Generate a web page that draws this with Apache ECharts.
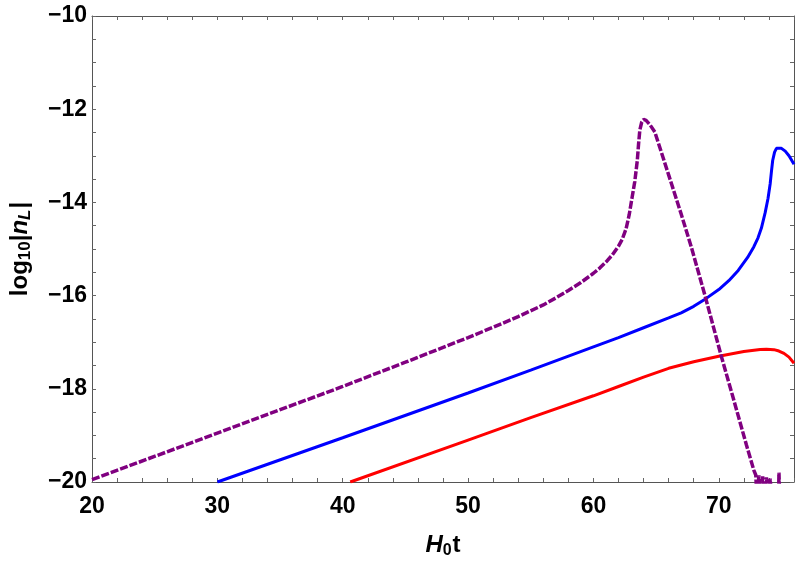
<!DOCTYPE html>
<html>
    <head>
        <meta charset="utf-8">
        <title>log10|nL|</title>
        <script src="https://cdn.jsdelivr.net/npm/echarts@6/dist/echarts.min.js"></script>
    </head>
    <body style="margin:0">
        <div id="chart" style="width: 797px;height: 564px;"></div>
        <script>
            var myChart = echarts.init(document.getElementById("chart"));

            // values
            var purple_x = [20, 30, 40, 45, 50, 52, 54, 56, 57, 58, 59, 60, 60.5, 61, 61.5, 62, 62.3, 62.6, 62.85, 63.08, 63.3, 63.5, 63.6, 63.7, 63.85, 64.0, 64.2, 64.5, 64.9, 66, 67, 67.8, 68.9, 70.2, 71.1, 72.2, 72.8, 72.95, 73.05, 73.2, 73.35, 73.5, 73.65, 73.8, 73.95, 74.1, 74.3, 74.75, 74.8, 74.9];
            var purple_y = [-19.95, -18.95, -17.95, -17.43, -16.9, -16.68, -16.45, -16.2, -16.05, -15.89, -15.72, -15.52, -15.41, -15.28, -15.13, -14.94, -14.79, -14.57, -14.27, -13.9, -13.55, -13.1, -12.75, -12.45, -12.28, -12.22, -12.24, -12.33, -12.49, -13.41, -14.25, -14.95, -16.0, -17.3, -18.15, -19.2, -19.75, -19.85, -20.4, -19.86, -20.5, -19.88, -20.5, -19.9, -20.5, -19.93, -20.6, -20.6, -19.8, -20.6];

            var blue_x = [30, 40, 50, 55, 60, 62, 64, 66, 67, 68, 69, 70, 70.8, 71.55, 72.3, 72.8, 73.13, 73.4, 73.7, 73.93, 74.1, 74.2, 74.3, 74.45, 74.6, 74.75, 75.0, 75.3, 75.6, 76];
            var blue_y = [-20, -19.05, -18.09, -17.6, -17.1, -16.9, -16.69, -16.48, -16.37, -16.23, -16.06, -15.87, -15.68, -15.46, -15.18, -14.95, -14.76, -14.55, -14.22, -13.91, -13.6, -13.34, -13.1, -12.92, -12.84, -12.81, -12.84, -12.9, -13.0, -13.18];

            var red_x = [40.6, 50, 55, 60, 62, 64, 66, 68, 70, 72, 73.3, 73.8, 74.4, 74.8, 75.2, 75.6, 76];
            var red_y = [-20.0, -19.1, -18.62, -18.15, -17.95, -17.75, -17.56, -17.42, -17.3, -17.2, -17.155, -17.15, -17.16, -17.19, -17.24, -17.32, -17.45];

            var x_labels = [20, 30, 40, 50, 60, 70];
            var y_labels = [-10, -12, -14, -16, -18, -20];

            function pairs(xs, ys) {
                var out = [];
                for (var i = 0; i < xs.length; i++) {
                    out.push([xs[i], ys[i]]);
                }
                return out;
            }

            var font = 'Liberation Sans, Arial, sans-serif';
            var frame = {lineStyle: {color: '#555', width: 1}};
            var ticks = {show: true, inside: true, length: 4, lineStyle: {color: '#666'}};

            function xLabel(v) {
                return x_labels.indexOf(v) >= 0 ? String(v) : '';
            }
            function yLabel(v) {
                return y_labels.indexOf(v) >= 0 ? '\u2212' + Math.abs(v) : '';
            }

            option = {
                animation: false,
                grid: {left: 90, right: 1, top: 16, bottom: 77},
                xAxis: [{
                    type: 'value',
                    min: 20,
                    max: 76,
                    interval: 2,
                    axisLine: frame,
                    axisTick: ticks,
                    splitLine: {show: false},
                    axisLabel: {
                        formatter: xLabel,
                        color: '#000',
                        fontFamily: font,
                        fontWeight: 'bold',
                        fontSize: 23,
                        margin: 13
                    },
                    name: '{i|H}{s|0}{n|t}',
                    nameLocation: 'middle',
                    nameGap: 50,
                    nameTextStyle: {
                        rich: {
                            i: {fontFamily: font, fontWeight: 'bold', fontStyle: 'italic', fontSize: 24, color: '#000'},
                            s: {fontFamily: font, fontWeight: 'bold', fontSize: 16, color: '#000', padding: [11, 1, 0, 0]},
                            n: {fontFamily: font, fontWeight: 'bold', fontSize: 24, color: '#000'}
                        }
                    }
                }, {
                    type: 'value',
                    position: 'top',
                    min: 20,
                    max: 76,
                    interval: 2,
                    axisLine: frame,
                    axisTick: ticks,
                    splitLine: {show: false},
                    axisLabel: {show: false}
                }],
                yAxis: [{
                    type: 'value',
                    min: -20,
                    max: -10,
                    interval: 0.5,
                    axisLine: frame,
                    axisTick: ticks,
                    splitLine: {show: false},
                    axisLabel: {
                        formatter: yLabel,
                        color: '#000',
                        fontFamily: font,
                        fontWeight: 'bold',
                        fontSize: 23,
                        margin: 5
                    },
                    name: '{n|log}{s|10}{n||}{i|n}{t|L}{n||}',
                    nameLocation: 'middle',
                    nameGap: 58,
                    nameTextStyle: {
                        rich: {
                            n: {fontFamily: font, fontWeight: 'bold', fontSize: 24, color: '#000'},
                            s: {fontFamily: font, fontWeight: 'bold', fontSize: 17, color: '#000', padding: [11, 0, 0, 0]},
                            i: {fontFamily: font, fontWeight: 'bold', fontStyle: 'italic', fontSize: 24, color: '#000'},
                            t: {fontFamily: font, fontWeight: 'bold', fontStyle: 'italic', fontSize: 17, color: '#000', padding: [11, 1, 0, 0]}
                        }
                    }
                }, {
                    type: 'value',
                    position: 'right',
                    min: -20,
                    max: -10,
                    interval: 0.5,
                    axisLine: frame,
                    axisTick: ticks,
                    splitLine: {show: false},
                    axisLabel: {show: false}
                }],
                series: [{
                    name: 'red',
                    type: 'line',
                    data: pairs(red_x, red_y),
                    showSymbol: false,
                    lineStyle: {color: '#ff0000', width: 3}
                }, {
                    name: 'blue',
                    type: 'line',
                    data: pairs(blue_x, blue_y),
                    showSymbol: false,
                    lineStyle: {color: '#0000ff', width: 3}
                }, {
                    name: 'purple',
                    type: 'line',
                    data: pairs(purple_x, purple_y),
                    showSymbol: false,
                    lineStyle: {color: '#800080', width: 3.5, type: [8, 2]}
                }]
            };

            myChart.setOption(option);
        </script>
    </body>
</html>
